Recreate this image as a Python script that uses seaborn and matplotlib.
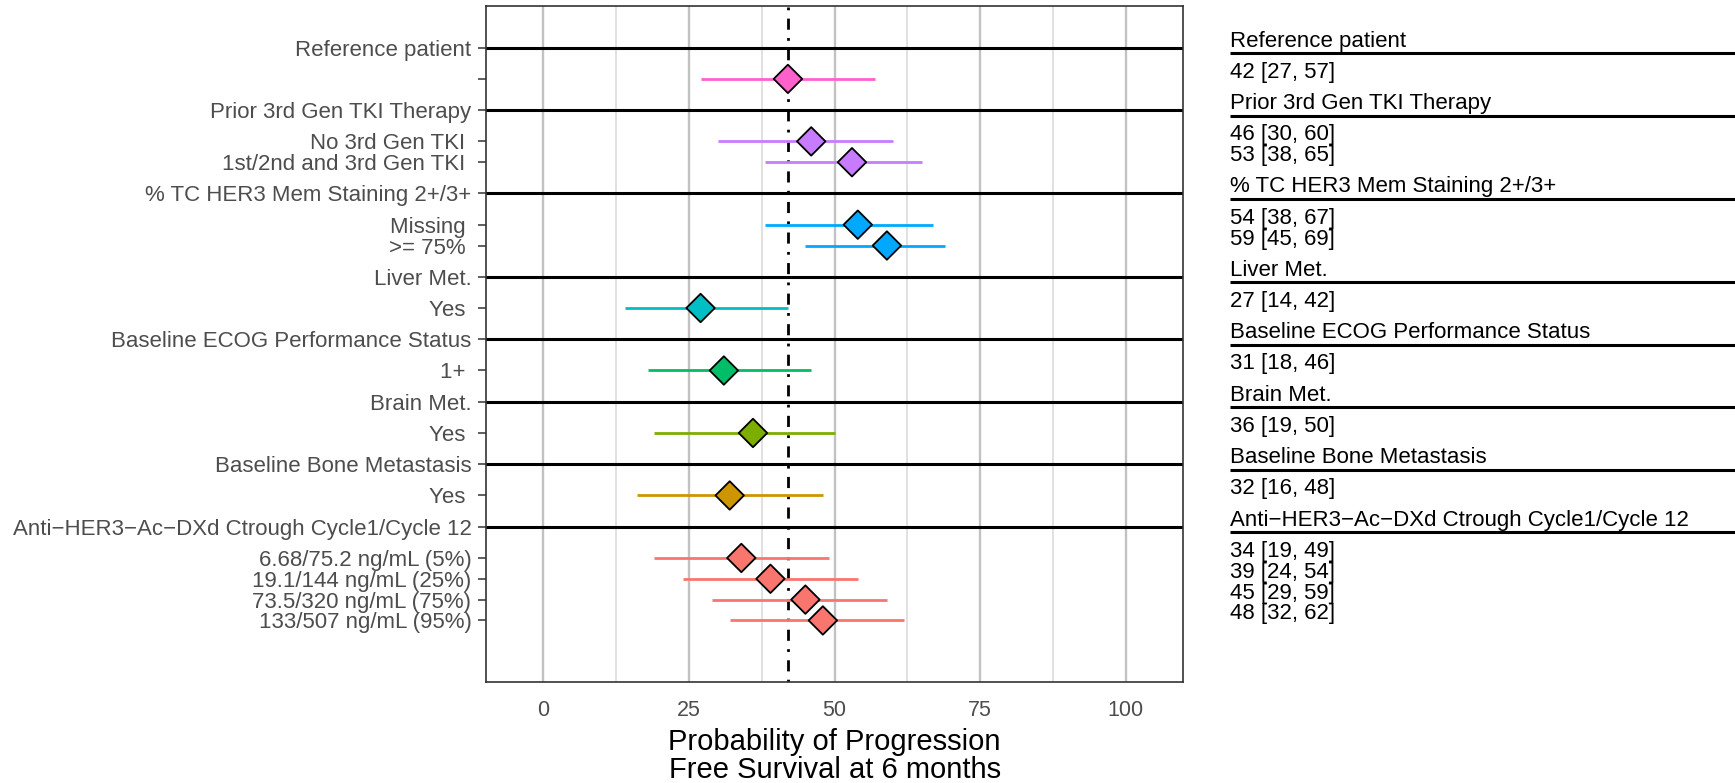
import matplotlib
matplotlib.use("Agg")
import matplotlib.pyplot as plt
import seaborn as sns
import pandas as pd

# ---- data -------------------------------------------------------------
group_titles = [
    "Reference patient",
    "Prior 3rd Gen TKI Therapy",
    "% TC HER3 Mem Staining 2+/3+",
    "Liver Met.",
    "Baseline ECOG Performance Status",
    "Brain Met.",
    "Baseline Bone Metastasis",
    "Anti\u2212HER3\u2212Ac\u2212DXd Ctrough Cycle1/Cycle 12",
]
group_levels = [
    [""],
    ["No 3rd Gen TKI ", "1st/2nd and 3rd Gen TKI "],
    ["Missing ", ">= 75% "],
    ["Yes "],
    ["1+ "],
    ["Yes "],
    ["Yes "],
    ["6.68/75.2 ng/mL (5%)", "19.1/144 ng/mL (25%)",
     "73.5/320 ng/mL (75%)", "133/507 ng/mL (95%)"],
]
pfs_median = [[42], [46, 53], [54, 59], [27], [31], [36], [32], [34, 39, 45, 48]]
pfs_lower = [[27], [30, 38], [38, 45], [14], [18], [19], [16], [19, 24, 29, 32]]
pfs_upper = [[57], [60, 65], [67, 69], [42], [46], [50], [48], [49, 54, 59, 62]]
group_colors = ["#FF61CC", "#C77CFF", "#00A9FF", "#00BFC4",
                "#00BE67", "#7CAE00", "#CD9600", "#F8766D"]
x_ticks = [0, 25, 50, 75, 100]
reference_value = pfs_median[0][0]

# ---- layout of rows: heading, then its levels ------------------------
rows = []
heading_pos = []
pos = 0.0
for g, title in enumerate(group_titles):
    heading_pos.append(pos)
    pos += 1.5
    for k, lab in enumerate(group_levels[g]):
        rows.append(dict(group=title, label=lab, y=pos,
                         est=pfs_median[g][k], lo=pfs_lower[g][k],
                         hi=pfs_upper[g][k], color=group_colors[g]))
        pos += 1.0
    pos += 0.5
df = pd.DataFrame(rows)

sns.set_theme(style="white")
plt.rcParams["font.family"] = ["Liberation Sans", "DejaVu Sans"]

W, H = 1735, 783
fig = plt.figure(figsize=(W / 100, H / 100), dpi=100)
ax_l, ax_r, ax_t, ax_b = 486, 1183.3, 6, 682.3
ax = fig.add_axes([ax_l / W, (H - ax_b) / H, (ax_r - ax_l) / W, (ax_b - ax_t) / H])

ax.set_xlim(-9.85, 109.9)
ax.set_ylim(30.47, -2.0)

# grid
ax.set_xticks(x_ticks)
ax.set_xticks([12.5, 37.5, 62.5, 87.5], minor=True)
for xv in x_ticks:
    ax.axvline(xv, color="#C2C2C2", lw=1.7, zorder=0)
for xv in [12.5, 37.5, 62.5, 87.5]:
    ax.axvline(xv, color="#DCDCDC", lw=1.2, zorder=0)

# group heading rules
for hy in heading_pos:
    ax.axhline(hy, color="black", lw=2.2, zorder=1)

# reference line
ax.axvline(reference_value, color="black", lw=2.0,
           linestyle=(0, (1, 3, 4, 3)), zorder=2)

# intervals and point estimates
ax.hlines(df["y"], df["lo"], df["hi"], colors=df["color"], lw=2.0, zorder=3)
palette = dict(zip(group_titles, group_colors))
sns.scatterplot(data=df, x="est", y="y", hue="group", palette=palette,
                marker="D", s=14.5 ** 2, edgecolor="black", linewidth=1.3,
                legend=False, zorder=5, ax=ax)

# axes cosmetics
ytick_pos = heading_pos + list(df["y"])
ytick_lab = group_titles + list(df["label"])
ax.set_yticks(ytick_pos)
ax.set_yticklabels(ytick_lab)
ax.set_xticklabels([str(v) for v in x_ticks])
ax.set_ylabel("")
ax.tick_params(axis="both", which="major", length=5.5, width=1.1,
               color="#333333", labelcolor="#4D4D4D", labelsize=16)
ax.tick_params(axis="x", pad=7, labelsize=15.5)
ax.tick_params(axis="y", pad=5, left=True)
ax.tick_params(axis="x", which="minor", bottom=False)
for sp in ax.spines.values():
    sp.set_color("#333333")
    sp.set_linewidth(1.2)
ax.set_xlabel("Probability of Progression\nFree Survival at 6 months",
              fontsize=21, color="black", linespacing=1.0, labelpad=5)

# ---- side table of estimates -----------------------------------------
shift = 6.5
tab = fig.add_axes([1230 / W, (H - ax_b + shift) / H, (W - 1230) / W, (ax_b - ax_t) / H])
tab.set_xlim(0, 1)
tab.set_ylim(30.47, -2.0)
tab.axis("off")
for title, hy in zip(group_titles, heading_pos):
    tab.text(0, hy, title, ha="left", va="center", fontsize=16, color="black")
    tab.plot([0, 1], [hy + 0.58, hy + 0.58], color="black", lw=2.2,
             solid_capstyle="butt", clip_on=False)
for _, r in df.iterrows():
    tab.text(0, r["y"], f"{r['est']} [{r['lo']}, {r['hi']}]", ha="left",
             va="center", fontsize=16, color="black")

fig.savefig("out.png", dpi=100)
